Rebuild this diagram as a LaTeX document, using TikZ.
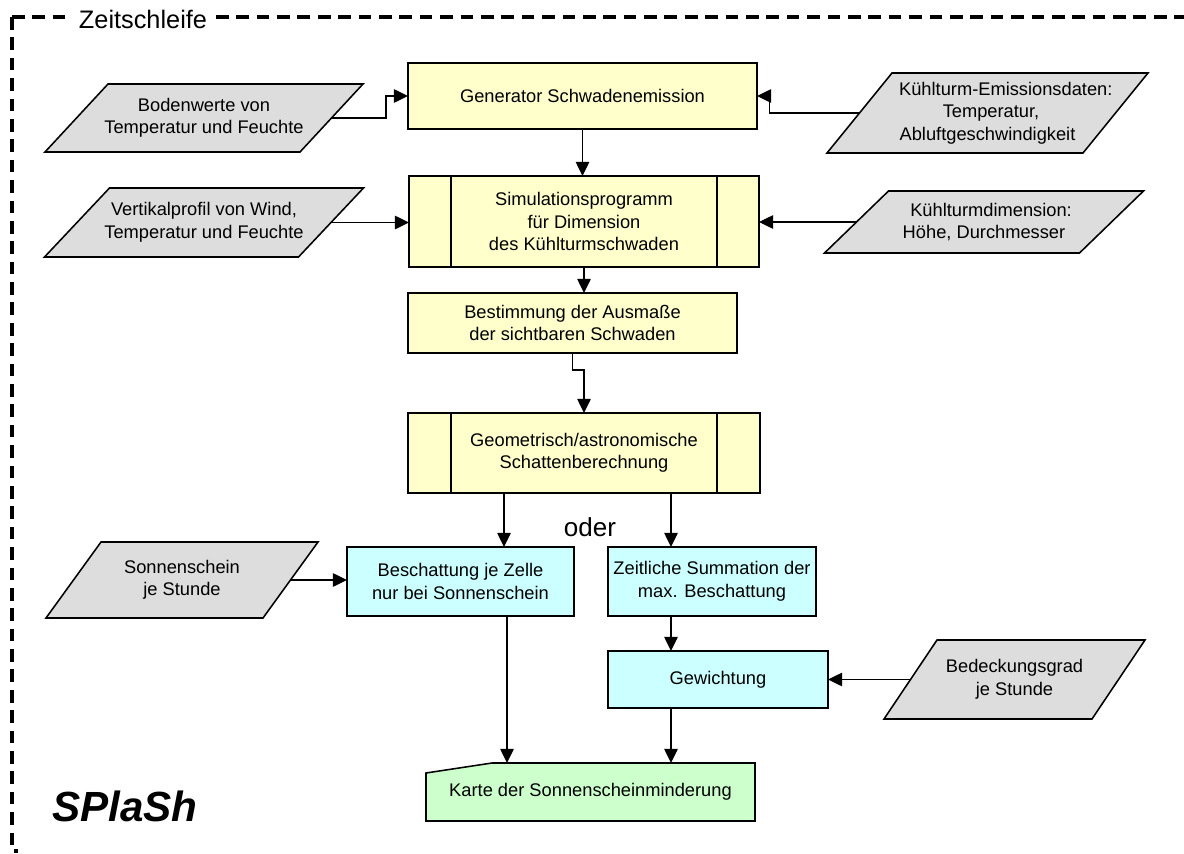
\documentclass[tikz,border=0pt]{standalone}
\usepackage{fontspec}
\setmainfont{Liberation Sans}
\usetikzlibrary{arrows.meta,calc,backgrounds}

\definecolor{procfill}{HTML}{FFFFCC}
\definecolor{calcfill}{HTML}{CCFFFF}
\definecolor{outfill}{HTML}{CCFFCC}
\definecolor{datafill}{HTML}{DDDDDD}

\tikzset{
  boxtext/.style={font=\fontsize{13pt}{16pt}\selectfont, align=center,
                  inner sep=0pt, outer sep=0pt},
  boxsize/.style 2 args={minimum width=#1*0.025cm, minimum height=#2*0.025cm},
  proc/.style={boxtext, draw, line width=1.1pt, fill=procfill},
  calcbox/.style={boxtext, draw, line width=1.1pt, fill=calcfill},
  datanode/.style={boxtext},
  dataframe/.style={draw, line width=1.1pt, fill=datafill},
  outframe/.style={draw, line width=1.1pt, fill=outfill},
  divider/.style={line width=1.1pt},
  arr/.style={line width=1.1pt, -{Triangle[length=10pt,width=9.5pt]}},
  loopframe/.style={line width=2.2pt, dash pattern=on 9pt off 5.5pt},
}

% slanted input frame behind a named node; #2 = half the horizontal slant
\newcommand\slantframe[2]{%
  \begin{pgfonlayer}{background}
    \path[dataframe] ($(#1.north west)+(#2,0)$) -- ($(#1.north east)+(#2,0)$)
      -- ($(#1.south east)-(#2,0)$) -- ($(#1.south west)-(#2,0)$) -- cycle;
  \end{pgfonlayer}}

\begin{document}
\begin{tikzpicture}[x=0.025cm,y=-0.025cm]
\useasboundingbox (0,0) rectangle (1184,854);

% time loop frame
\draw[loopframe] (12,17) -- (1184,17);
\draw[loopframe] (12,17) -- (12,851) -- (18,851);
\node[fill=white, inner xsep=6pt, inner ysep=2pt,
      font=\fontsize{18pt}{20pt}\selectfont] (loop) at (143,19) {Zeitschleife};

% main process chain
\node[proc, boxsize={349}{66}] (gen) at (582.5,96) {Generator Schwadenemission};
\node[proc, boxsize={350}{91}] (sim) at (584,221.5)
  {Simulationsprogramm\\für Dimension\\des Kühlturmschwaden};
\draw[divider] ([xshift=1.05cm]sim.north west) -- ([xshift=1.05cm]sim.south west);
\draw[divider] ([xshift=-1.05cm]sim.north east) -- ([xshift=-1.05cm]sim.south east);
\node[proc, boxsize={329}{60}] (bes) at (572.5,323)
  {Bestimmung der Ausmaße\\der sichtbaren Schwaden};
\node[proc, boxsize={352}{80}] (geo) at (584,453)
  {Geometrisch/astronomische\\Schattenberechnung};
\draw[divider] ([xshift=1.075cm]geo.north west) -- ([xshift=1.075cm]geo.south west);
\draw[divider] ([xshift=-1.075cm]geo.north east) -- ([xshift=-1.075cm]geo.south east);

% shading branches
\node[calcbox, boxsize={227}{69}] (besch) at (460.5,581.5)
  {Beschattung je Zelle\\nur bei Sonnenschein};
\node[calcbox, boxsize={208}{69}] (zeit) at (712,581.5)
  {Zeitliche Summation der\\max. Beschattung};
\node[calcbox, boxsize={220}{57}] (gew) at (718,679.5) {Gewichtung};
\node[font=\fontsize{18.5pt}{20pt}\selectfont, inner sep=0pt] (oder) at (590,527) {oder};

% result map
\node[boxtext, boxsize={329}{58}] (karte) at (590.5,792) {Karte der Sonnenscheinminderung};
\begin{pgfonlayer}{background}
  \path[outframe] (karte.south west) -- ($(karte.north west)+(0,10)$)
    -- ($(karte.north west)+(66,0)$) -- (karte.north east)
    -- (karte.south east) -- cycle;
\end{pgfonlayer}

% input data
\node[datanode, boxsize={255}{68}] (boden) at (204,118)
  {Bodenwerte von\\Temperatur und Feuchte};
\slantframe{boden}{31.5}
\node[datanode, boxsize={256}{80}] (emis) at (987.5,113)
  {\hspace*{26pt}Kühlturm-Emissionsdaten:\\\hspace*{5pt}Temperatur,\\Abluftgeschwindigkeit};
\slantframe{emis}{32.5}
\node[datanode, boxsize={254}{69}] (vert) at (204,222.5)
  {Vertikalprofil von Wind,\\Temperatur und Feuchte};
\slantframe{vert}{32.5}
\node[datanode, boxsize={255}{62}] (kdim) at (984,222)
  {\hspace*{10pt}Kühlturmdimension:\\Höhe, Durchmesser};
\slantframe{kdim}{32}
\node[datanode, boxsize={217}{76}] (sonne) at (182,580)
  {Sonnenschein\\je Stunde};
\slantframe{sonne}{27.5}
\node[datanode, boxsize={208}{79}] (bedeck) at (1014.5,679.5)
  {Bedeckungsgrad\\je Stunde};
\slantframe{bedeck}{26.5}

% connectors
\draw[arr] (boden.east) -- ++(54.5,0) |- (gen.west);
\draw[arr] (emis.west) -- ++(-90,0) |- (gen.east);
\draw[arr] (gen.south) -- (gen.south |- sim.north);
\draw[arr] (vert.east) -- (vert.east -| sim.west);
\draw[arr] (kdim.west) -- (kdim.west -| sim.east);
\draw[arr] (sim.south) -- (sim.south |- bes.north);
\draw[arr] (bes.south) -- ++(0,17) -| (geo.north);
\coordinate (geoL) at ($(geo.south west)+(96,0)$);
\coordinate (geoR) at ($(geo.south west)+(263,0)$);
\draw[arr] (geoL) -- (geoL |- besch.north);
\draw[arr] (geoR) -- (geoR |- zeit.north);
\draw[arr] (zeit.south -| geoR) -- (gew.north -| geoR);
\draw[arr] (bedeck.west) -- (bedeck.west -| gew.east);
\draw[arr] (sonne.east) -- (sonne.east -| besch.west);
\coordinate (beschOut) at ($(besch.south west)+(160,0)$);
\draw[arr] (beschOut) -- (beschOut |- karte.north);
\draw[arr] (gew.south -| geoR) -- (karte.north -| geoR);

% program name
\node[anchor=base west, inner sep=0pt,
      font=\fontsize{30pt}{34pt}\selectfont\bfseries\itshape] (splash) at (52,821) {SPlaSh};
\end{tikzpicture}
\end{document}
